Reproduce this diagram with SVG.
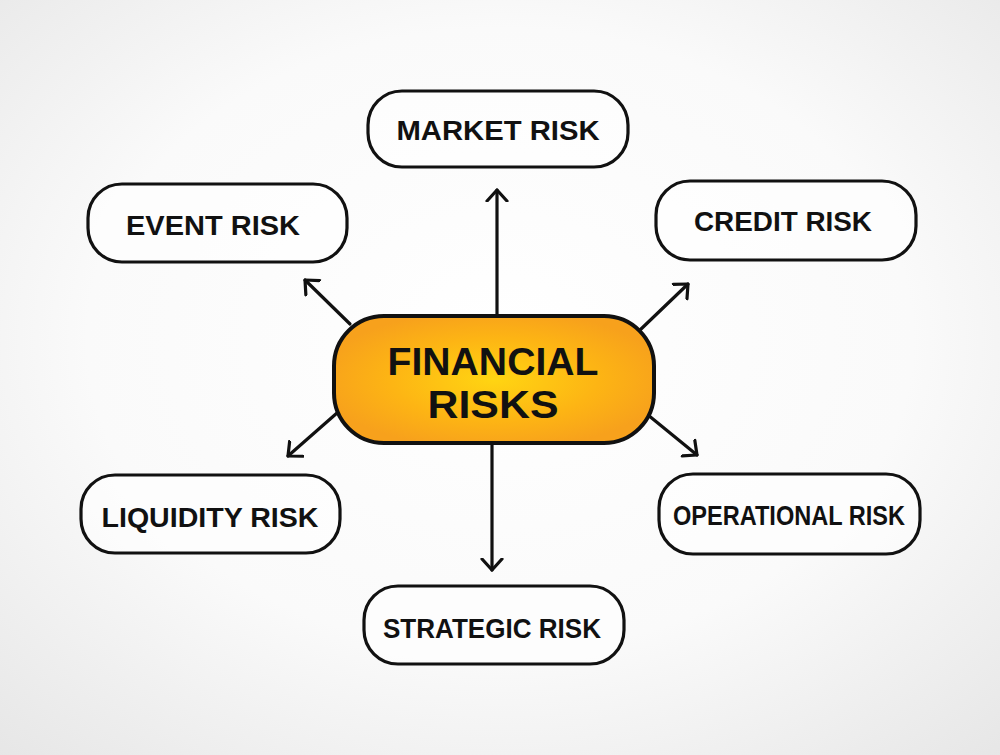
<svg xmlns="http://www.w3.org/2000/svg" width="1000" height="755" viewBox="0 0 1000 755">
<defs>
<radialGradient id="bg" cx="50%" cy="45%" r="75%">
<stop offset="0" stop-color="#ffffff"/>
<stop offset="0.55" stop-color="#fafafa"/>
<stop offset="1" stop-color="#e6e6e6"/>
</radialGradient>
<radialGradient id="og" cx="50%" cy="50%" r="55%">
<stop offset="0" stop-color="#ffd512"/>
<stop offset="0.6" stop-color="#fdb414"/>
<stop offset="1" stop-color="#f7a11c"/>
</radialGradient>
<marker id="ah" markerWidth="24" markerHeight="24" viewBox="-12 -12 24 24" refX="0" refY="0" orient="auto" markerUnits="userSpaceOnUse">
<path d="M-11,-10 L0,0 L-11,10" fill="none" stroke="#111" stroke-width="3.2" stroke-linecap="round" stroke-linejoin="round"/>
</marker>
</defs>
<style>
.box{fill:#fff;fill-opacity:0.6;stroke:#111;stroke-width:3.2}
.lbl{font-family:"Liberation Sans",Arial,sans-serif;font-weight:bold;font-size:27px;fill:#111;text-anchor:middle}
.big{font-family:"Liberation Sans",Arial,sans-serif;font-weight:bold;font-size:38px;fill:#111;text-anchor:middle}
.con{stroke:#111;stroke-width:3.2;fill:none;stroke-linecap:round;marker-end:url(#ah)}
</style>
<rect x="0" y="0" width="1000" height="755" fill="url(#bg)"/>
<g id="connectors">
<line class="con" x1="497" y1="316" x2="497" y2="190"/>
<line class="con" x1="492" y1="444" x2="492" y2="570"/>
<line class="con" x1="350" y1="324" x2="305" y2="280"/>
<line class="con" x1="640" y1="330" x2="688" y2="284"/>
<line class="con" x1="337" y1="413" x2="288" y2="456"/>
<line class="con" x1="648" y1="415" x2="697" y2="455"/>
</g>
<g id="center">
<rect x="334" y="316" width="320" height="127" rx="50" fill="url(#og)" stroke="#111" stroke-width="4"/>
<text class="big" x="493" y="375" textLength="211" lengthAdjust="spacingAndGlyphs">FINANCIAL</text>
<text class="big" x="493" y="418" textLength="131" lengthAdjust="spacingAndGlyphs">RISKS</text>
</g>
<g id="market">
<rect class="box" x="368" y="91" width="260" height="76" rx="34"/>
<text class="lbl" x="498" y="140" textLength="203" lengthAdjust="spacingAndGlyphs">MARKET RISK</text>
</g>
<g id="event">
<rect class="box" x="88" y="184" width="259" height="78" rx="34"/>
<text class="lbl" x="213" y="235" textLength="174" lengthAdjust="spacingAndGlyphs">EVENT RISK</text>
</g>
<g id="credit">
<rect class="box" x="656" y="181" width="260" height="79" rx="34"/>
<text class="lbl" x="783" y="231" textLength="178" lengthAdjust="spacingAndGlyphs">CREDIT RISK</text>
</g>
<g id="liquidity">
<rect class="box" x="81" y="475" width="259" height="78" rx="34"/>
<text class="lbl" x="210" y="527" textLength="217" lengthAdjust="spacingAndGlyphs">LIQUIDITY RISK</text>
</g>
<g id="operational">
<rect class="box" x="659" y="474" width="261" height="80" rx="34"/>
<text class="lbl" x="789" y="525" textLength="232" lengthAdjust="spacingAndGlyphs">OPERATIONAL RISK</text>
</g>
<g id="strategic">
<rect class="box" x="364" y="586" width="260" height="78" rx="34"/>
<text class="lbl" x="492" y="638" textLength="218" lengthAdjust="spacingAndGlyphs">STRATEGIC RISK</text>
</g>
</svg>
